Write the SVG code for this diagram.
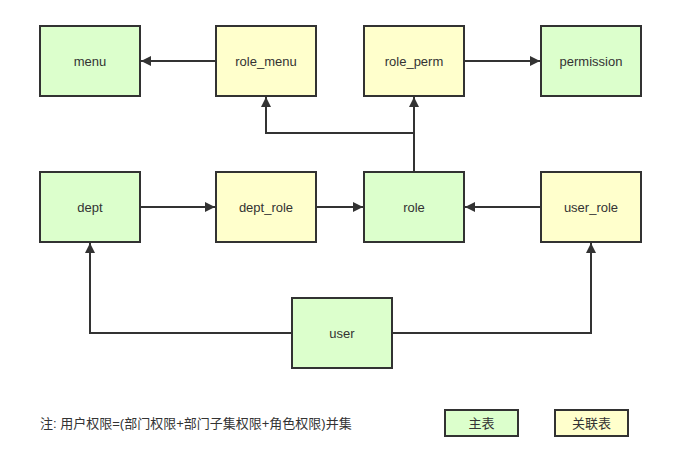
<svg xmlns="http://www.w3.org/2000/svg" width="682" height="458" viewBox="0 0 682 458">
<style>
.box{stroke:#323232;stroke-width:2}
.main{fill:#dcffcc}
.rel{fill:#ffffcc}
.t{font-family:"Liberation Sans","Noto Sans CJK SC",sans-serif;font-size:13px;fill:#333;text-anchor:middle;dominant-baseline:central}
.c{fill:none;stroke:#333;stroke-width:2}
</style>
<defs>
<marker id="a" viewBox="0 0 10 10" refX="10" refY="5" markerWidth="11" markerHeight="10" markerUnits="userSpaceOnUse" orient="auto">
<path d="M0,0 L10,5 L0,10 z" fill="#333"/>
</marker>
</defs>
<rect width="682" height="458" fill="#fff"/>
<g id="connectors">
<path class="c" d="M216,61 H141" marker-end="url(#a)"/>
<path class="c" d="M464,61 H540" marker-end="url(#a)"/>
<path class="c" d="M414,172 V133 H266 V97" marker-end="url(#a)"/>
<path class="c" d="M414,133 V97" marker-end="url(#a)"/>
<path class="c" d="M140,207 H215" marker-end="url(#a)"/>
<path class="c" d="M316,207 H363" marker-end="url(#a)"/>
<path class="c" d="M541,207 H465" marker-end="url(#a)"/>
<path class="c" d="M292,333 H90 V243" marker-end="url(#a)"/>
<path class="c" d="M392,333 H591 V243" marker-end="url(#a)"/>
</g>
<g id="menu"><rect class="box main" x="40" y="26" width="100" height="70"/><text class="t" x="90" y="61">menu</text></g>
<g id="role_menu"><rect class="box rel" x="216" y="26" width="100" height="70"/><text class="t" x="266" y="61">role_menu</text></g>
<g id="role_perm"><rect class="box rel" x="364" y="26" width="100" height="70"/><text class="t" x="414" y="61">role_perm</text></g>
<g id="permission"><rect class="box main" x="541" y="26" width="100" height="70"/><text class="t" x="591" y="61">permission</text></g>
<g id="dept"><rect class="box main" x="40" y="172" width="100" height="70"/><text class="t" x="90" y="207">dept</text></g>
<g id="dept_role"><rect class="box rel" x="216" y="172" width="100" height="70"/><text class="t" x="266" y="207">dept_role</text></g>
<g id="role"><rect class="box main" x="364" y="172" width="100" height="70"/><text class="t" x="414" y="207">role</text></g>
<g id="user_role"><rect class="box rel" x="541" y="172" width="100" height="70"/><text class="t" x="591" y="207">user_role</text></g>
<g id="user"><rect class="box main" x="292" y="298" width="100" height="70"/><text class="t" x="342" y="333">user</text></g>
<g id="note"><text class="t" x="40" y="423" style="text-anchor:start">注: 用户权限=(部门权限+部门子集权限+角色权限)并集</text></g>
<g id="legend-main"><rect class="box main" x="445" y="410" width="73" height="26"/><text class="t" x="481.5" y="423">主表</text></g>
<g id="legend-rel"><rect class="box rel" x="555" y="410" width="73" height="26"/><text class="t" x="591.5" y="423">关联表</text></g>
</svg>
